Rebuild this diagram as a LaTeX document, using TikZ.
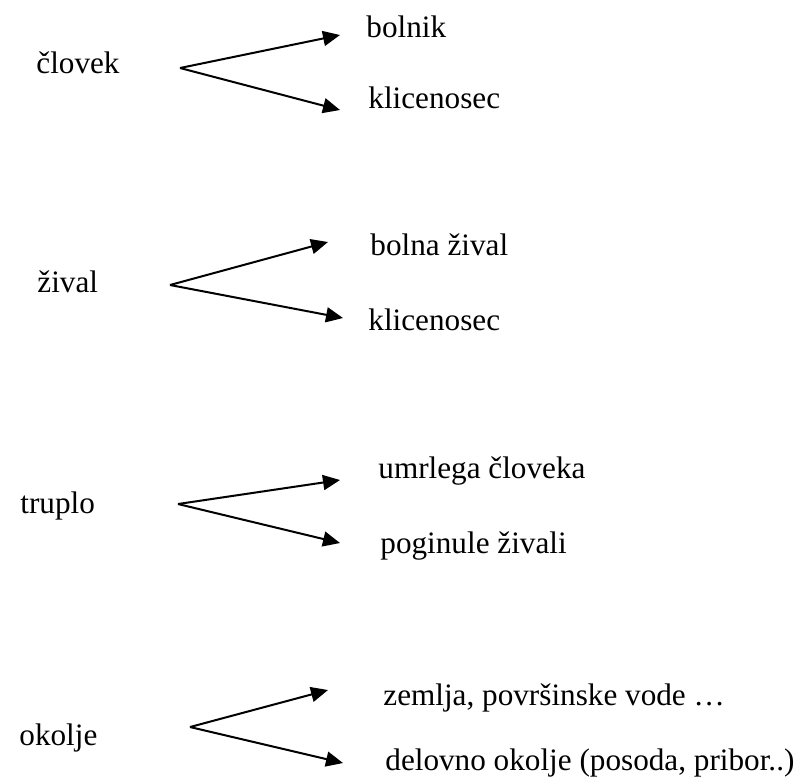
\documentclass[tikz,border=0pt]{standalone}
\usepackage{fontspec}
\setmainfont{Liberation Serif}
\newfontfamily\labelfont{Liberation Serif}
\usetikzlibrary{arrows.meta}
\begin{document}
\begin{tikzpicture}[x=0.5pt,y=-0.5pt,
  lbl/.style={anchor=base west,inner sep=0pt,font=\labelfont\fontsize{15.6}{18}\selectfont},
  branch/.style={line width=1pt,-{Triangle[length=8.5pt,width=7.5pt]}}]
\useasboundingbox (0,0) rectangle (795,778);

% group 1
\node[lbl] (clovek) at (36,73) {človek};
\node[lbl] (bolnik) at (366,37) {bolnik};
\node[lbl] (klic1) at (368,108) {klicenosec};
\coordinate (o1) at (180,68);
\coordinate (t1a) at (340,35);
\coordinate (t1b) at (340,110);
\draw[branch] (o1) -- (t1a);
\draw[branch] (o1) -- (t1b);

% group 2
\node[lbl] (zival) at (37,292) {žival};
\node[lbl] (bolna) at (370,255) {bolna žival};
\node[lbl] (klic2) at (368,330) {klicenosec};
\coordinate (o2) at (170,285);
\coordinate (t2a) at (328,242);
\coordinate (t2b) at (343,318);
\draw[branch] (o2) -- (t2a);
\draw[branch] (o2) -- (t2b);

% group 3
\node[lbl] (truplo) at (20,513) {truplo};
\node[lbl] (umrl) at (378,478) {umrlega človeka};
\node[lbl] (pogin) at (380,553) {poginule živali};
\coordinate (o3) at (178,504);
\coordinate (t3a) at (340,480);
\coordinate (t3b) at (340,543);
\draw[branch] (o3) -- (t3a);
\draw[branch] (o3) -- (t3b);

% group 4
\node[lbl] (okolje) at (19,745) {okolje};
\node[lbl] (zemlja) at (383,705) {zemlja, površinske vode …};
\node[lbl] (delovno) at (385,770) {delovno okolje (posoda, pribor..)};
\coordinate (o4) at (190,727);
\coordinate (t4a) at (328,690);
\coordinate (t4b) at (343,763);
\draw[branch] (o4) -- (t4a);
\draw[branch] (o4) -- (t4b);
\end{tikzpicture}
\end{document}
